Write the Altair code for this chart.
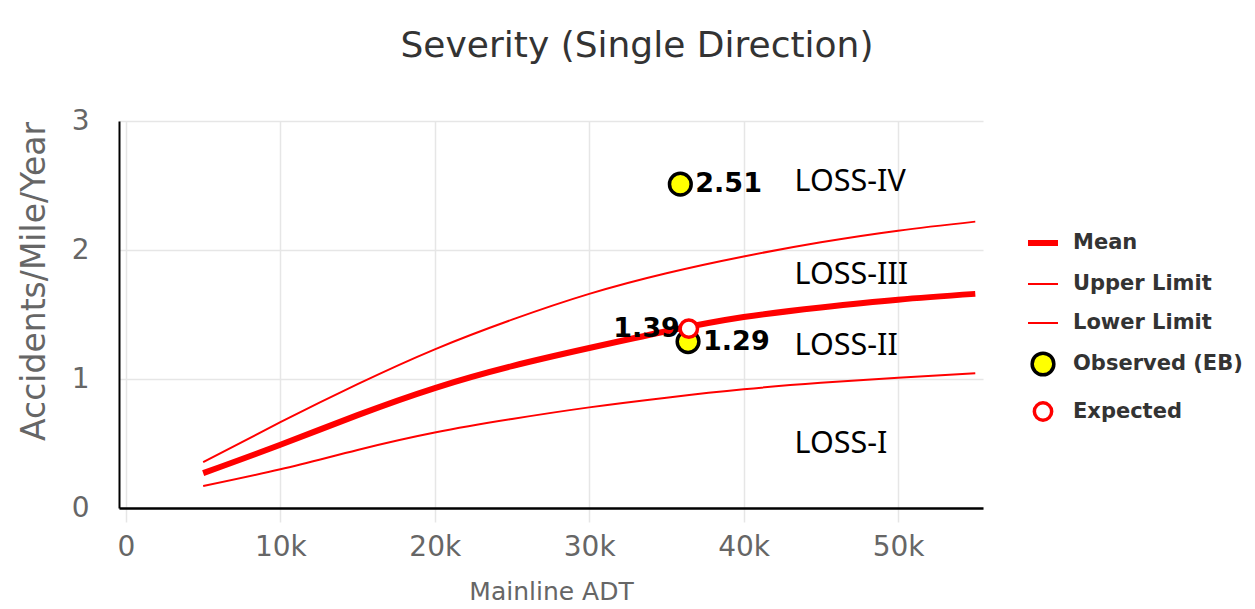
import altair as alt
import pandas as pd

# ---- data ----
ADT = [5000, 10000, 15000, 20000, 25000, 30000, 35000, 40000, 45000, 50000, 55000]
MEAN = [0.27, 0.49, 0.72, 0.93, 1.10, 1.24, 1.37, 1.48, 1.555, 1.615, 1.66]
UPPER = [0.355, 0.665, 0.96, 1.23, 1.46, 1.66, 1.82, 1.95, 2.06, 2.15, 2.22]
LOWER = [0.17, 0.30, 0.45, 0.585, 0.69, 0.78, 0.855, 0.92, 0.97, 1.01, 1.045]

OBS_ADT = [35900, 36400]
OBS_VAL = [2.51, 1.29]
EXP_ADT = [36450]
EXP_VAL = [1.39]

LOSS_ADT = [43300, 43300, 43300, 43300]
LOSS_Y = [2.525, 1.81, 1.257, 0.50]
LOSS_TEXT = ["LOSS-IV", "LOSS-III", "LOSS-II", "LOSS-I"]

SERIES = ["Mean", "Upper Limit", "Lower Limit", "Observed (EB)", "Expected"]
X_TICKS = [0, 10000, 20000, 30000, 40000, 50000]
Y_TICKS = [0, 1, 2, 3]

# ---- tables ----
lines_df = pd.DataFrame(
    {"ADT": ADT * 3,
     "value": MEAN + UPPER + LOWER,
     "series": ["Mean"] * len(ADT) + ["Upper Limit"] * len(ADT) + ["Lower Limit"] * len(ADT)}
)
points_df = pd.DataFrame(
    {"ADT": OBS_ADT + EXP_ADT,
     "value": OBS_VAL + EXP_VAL,
     "series": ["Observed (EB)"] * len(OBS_ADT) + ["Expected"] * len(EXP_ADT),
     "label": [f"{v:.2f}" for v in OBS_VAL + EXP_VAL],
     "side": ["right"] * len(OBS_ADT) + ["left"] * len(EXP_ADT)}
)
loss_df = pd.DataFrame({"ADT": LOSS_ADT, "value": LOSS_Y, "text": LOSS_TEXT})

FONT = "DejaVu Sans"

x_enc = alt.X(
    "ADT:Q",
    scale=alt.Scale(domain=[-450, 55500], nice=False, zero=False),
    axis=alt.Axis(values=X_TICKS, title="Mainline ADT",
                  labelExpr="datum.value == 0 ? '0' : format(datum.value / 1000, 'd') + 'k'"),
)
y_enc = alt.Y(
    "value:Q",
    scale=alt.Scale(domain=[0, 3], nice=False),
    axis=alt.Axis(values=Y_TICKS, format="d", title="Accidents/Mile/Year", ticks=False, tickSize=0,
                  labelPadding=30, titleX=-68, titleY=160, titleFontSize=33),
)

leg = alt.Legend(title=None)
stroke_enc = alt.Stroke("series:N", scale=alt.Scale(domain=SERIES, range=["#ff0000", "#ff0000", "#ff0000", "#000000", "#ff0000"]), legend=leg)
sw_enc = alt.StrokeWidth("series:N", scale=alt.Scale(type="ordinal", domain=SERIES, range=[6, 2, 2, 3.5, 3.5]), legend=leg)
fill_enc = alt.Fill("series:N", scale=alt.Scale(domain=SERIES, range=["#ff0000", "#ff0000", "#ff0000", "#ffff00", "#ffffff"]), legend=leg)
shape_enc = alt.Shape("series:N", scale=alt.Scale(domain=SERIES, range=["stroke", "stroke", "stroke", "circle", "circle"]), legend=leg)
size_enc = alt.Size("series:N", scale=alt.Scale(type="ordinal", domain=SERIES, range=[900, 900, 900, 470, 300]), legend=leg)

lines = alt.Chart(lines_df).mark_line(interpolate="natural").encode(
    x=x_enc, y=y_enc, stroke=stroke_enc, strokeWidth=sw_enc
)

loss = alt.Chart(loss_df).mark_text(
    align="left", baseline="middle", font="Noto Sans", fontSize=30.5, color="#000000"
).encode(x="ADT:Q", y="value:Q", text="text:N")

points = alt.Chart(points_df).mark_point(opacity=1, filled=False).encode(
    x="ADT:Q", y="value:Q", stroke=stroke_enc, fill=fill_enc, shape=shape_enc,
    size=size_enc, strokeWidth=sw_enc
)

labels_right = alt.Chart(points_df).transform_filter(alt.datum.side == "right").mark_text(
    align="left", baseline="middle", dx=15, font=FONT, fontSize=27, fontWeight="bold", color="#000000"
).encode(x="ADT:Q", y="value:Q", text="label:N")

labels_left = alt.Chart(points_df).transform_filter(alt.datum.side == "left").mark_text(
    align="right", baseline="middle", dx=-9, font=FONT, fontSize=27, fontWeight="bold", color="#000000"
).encode(x="ADT:Q", y="value:Q", text="label:N")

chart = alt.layer(lines, loss, points, labels_right, labels_left).properties(
    width=864,
    height=387,
    padding={"left": 111, "top": 113, "right": 264, "bottom": 101},
    autosize=alt.AutoSizeParams(type="none"),
    background="#ffffff",
    title=alt.TitleParams(
        "Severity (Single Direction)", font=FONT, fontSize=36, fontWeight="normal",
        color="#333333", anchor="middle", frame="group", dx=86, offset=42,
    ),
).configure_view(strokeWidth=0).configure_axis(
    domainColor="#000000",
    gridColor="#e6e6e6",
    gridWidth=1.5,
    labelFont=FONT,
    labelColor="#666666",
    labelFontSize=28,
    labelFlush=False,
    titleFont=FONT,
    titleColor="#666666",
    titleFontWeight="normal",
    titleFontSize=25,
).configure_axisX(
    domainWidth=2.5,
    tickColor="#e6e6e6",
    tickWidth=1.5,
    tickSize=14,
    labelPadding=11,
    titlePadding=18,
).configure_axisY(
    domainWidth=2,
).configure_legend(
    orient="none",
    legendX=906,
    legendY=104,
    padding=0,
    labelFont=FONT,
    labelFontSize=21,
    labelFontWeight="bold",
    labelColor="#333333",
    labelOffset=12,
    rowPadding=13,
    labelLimit=400,
)

chart.save("out.html", embed_options={"renderer": "svg", "actions": False})
